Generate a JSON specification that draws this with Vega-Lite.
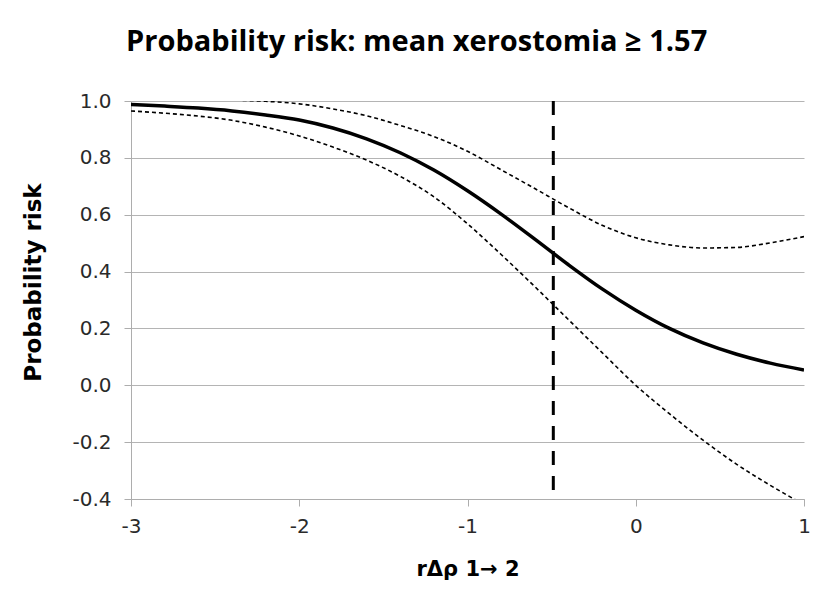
{
  "$schema": "https://vega.github.io/schema/vega-lite/v6.json",
  "autosize": {"type": "none"},
  "width": 673,
  "height": 398,
  "padding": {"left": 131, "top": 101, "right": 32, "bottom": 96},
  "background": "white",
  "config": {
    "view": {"stroke": null},
    "axis": {
      "labelFont": "DejaVu Sans",
      "labelFontSize": 20,
      "labelColor": "#2a2a2a",
      "titleFont": "DejaVu Sans",
      "titleFontWeight": "bold",
      "titleColor": "#000000",
      "domainColor": "#adadad",
      "tickColor": "#adadad",
      "gridColor": "#b4b4b4",
      "tickSize": 7
    }
  },
  "title": {
    "text": "Probability risk: mean xerostomia ≥ 1.57",
    "font": "Open Sans",
    "fontSize": 29,
    "fontWeight": "bold",
    "color": "#000000",
    "anchor": "middle",
    "frame": "bounds",
    "baseline": "alphabetic",
    "offset": 11
  },
  "datasets": {
    "curves": [
      {"x": -3.0, "p": 0.988, "series": "fit"},
      {"x": -2.8, "p": 0.982, "series": "fit"},
      {"x": -2.6, "p": 0.975, "series": "fit"},
      {"x": -2.4, "p": 0.965, "series": "fit"},
      {"x": -2.2, "p": 0.951, "series": "fit"},
      {"x": -2.0, "p": 0.933, "series": "fit"},
      {"x": -1.8, "p": 0.905, "series": "fit"},
      {"x": -1.6, "p": 0.867, "series": "fit"},
      {"x": -1.4, "p": 0.818, "series": "fit"},
      {"x": -1.2, "p": 0.757, "series": "fit"},
      {"x": -1.0, "p": 0.684, "series": "fit"},
      {"x": -0.8, "p": 0.602, "series": "fit"},
      {"x": -0.6, "p": 0.514, "series": "fit"},
      {"x": -0.4, "p": 0.424, "series": "fit"},
      {"x": -0.2, "p": 0.339, "series": "fit"},
      {"x": 0.0, "p": 0.264, "series": "fit"},
      {"x": 0.2, "p": 0.2, "series": "fit"},
      {"x": 0.4, "p": 0.149, "series": "fit"},
      {"x": 0.6, "p": 0.109, "series": "fit"},
      {"x": 0.8, "p": 0.078, "series": "fit"},
      {"x": 1.0, "p": 0.054, "series": "fit"},
      {"x": -3.0, "p": 1.03, "series": "upper"},
      {"x": -2.8, "p": 1.025, "series": "upper"},
      {"x": -2.6, "p": 1.015, "series": "upper"},
      {"x": -2.4, "p": 1.004, "series": "upper"},
      {"x": -2.2, "p": 0.999, "series": "upper"},
      {"x": -2.0, "p": 0.99, "series": "upper"},
      {"x": -1.8, "p": 0.972, "series": "upper"},
      {"x": -1.6, "p": 0.948, "series": "upper"},
      {"x": -1.4, "p": 0.914, "series": "upper"},
      {"x": -1.2, "p": 0.875, "series": "upper"},
      {"x": -1.0, "p": 0.823, "series": "upper"},
      {"x": -0.8, "p": 0.758, "series": "upper"},
      {"x": -0.6, "p": 0.692, "series": "upper"},
      {"x": -0.4, "p": 0.625, "series": "upper"},
      {"x": -0.2, "p": 0.563, "series": "upper"},
      {"x": 0.0, "p": 0.519, "series": "upper"},
      {"x": 0.2, "p": 0.494, "series": "upper"},
      {"x": 0.4, "p": 0.483, "series": "upper"},
      {"x": 0.6, "p": 0.485, "series": "upper"},
      {"x": 0.8, "p": 0.501, "series": "upper"},
      {"x": 1.0, "p": 0.523, "series": "upper"},
      {"x": -3.0, "p": 0.965, "series": "lower"},
      {"x": -2.8, "p": 0.957, "series": "lower"},
      {"x": -2.6, "p": 0.947, "series": "lower"},
      {"x": -2.4, "p": 0.932, "series": "lower"},
      {"x": -2.2, "p": 0.908, "series": "lower"},
      {"x": -2.0, "p": 0.877, "series": "lower"},
      {"x": -1.8, "p": 0.838, "series": "lower"},
      {"x": -1.6, "p": 0.792, "series": "lower"},
      {"x": -1.4, "p": 0.735, "series": "lower"},
      {"x": -1.2, "p": 0.663, "series": "lower"},
      {"x": -1.0, "p": 0.568, "series": "lower"},
      {"x": -0.8, "p": 0.46, "series": "lower"},
      {"x": -0.6, "p": 0.347, "series": "lower"},
      {"x": -0.4, "p": 0.231, "series": "lower"},
      {"x": -0.2, "p": 0.115, "series": "lower"},
      {"x": 0.0, "p": 0.0, "series": "lower"},
      {"x": 0.2, "p": -0.1, "series": "lower"},
      {"x": 0.4, "p": -0.193, "series": "lower"},
      {"x": 0.6, "p": -0.278, "series": "lower"},
      {"x": 0.8, "p": -0.352, "series": "lower"},
      {"x": 1.0, "p": -0.42, "series": "lower"}
    ],
    "threshold": [{"x": -0.49}]
  },
  "layer": [
    {
      "data": {"name": "curves"},
      "transform": [{"filter": "datum.series !== 'fit'"}],
      "mark": {"type": "line", "clip": true, "color": "#000000", "strokeWidth": 1.6, "strokeDash": [4, 3], "interpolate": "monotone"},
      "encoding": {
        "x": {
          "field": "x", "type": "quantitative",
          "scale": {"domain": [-3, 1], "nice": false, "zero": false},
          "axis": {
            "title": "rΔρ 1→ 2",
            "titleFontSize": 21,
            "titlePadding": 22,
            "values": [-3, -2, -1, 0, 1],
            "format": "d",
            "labelExpr": "replace(datum.label, '−', '-')",
            "grid": false,
            "labelPadding": 10,
            "labelFlush": false
          }
        },
        "y": {
          "field": "p", "type": "quantitative",
          "scale": {"domain": [-0.4, 1.0], "nice": false, "zero": false},
          "axis": {
            "title": "Probability risk",
            "titleFontSize": 23,
            "titlePadding": 26,
            "titleY": 181,
            "values": [-0.4, -0.2, 0, 0.2, 0.4, 0.6, 0.8, 1.0],
            "format": ".1f",
            "labelExpr": "replace(datum.label, '−', '-')",
            "grid": true,
            "labelPadding": 13
          }
        },
        "detail": {"field": "series", "type": "nominal"}
      }
    },
    {
      "data": {"name": "curves"},
      "transform": [{"filter": "datum.series === 'fit'"}],
      "mark": {"type": "line", "clip": true, "color": "#000000", "strokeWidth": 3.5, "interpolate": "monotone"},
      "encoding": {
        "x": {"field": "x", "type": "quantitative"},
        "y": {"field": "p", "type": "quantitative"}
      }
    },
    {
      "data": {"name": "threshold"},
      "mark": {"type": "rule", "color": "#000000", "strokeWidth": 3, "strokeDash": [14, 11]},
      "encoding": {
        "x": {"field": "x", "type": "quantitative"}
      }
    }
  ]
}
